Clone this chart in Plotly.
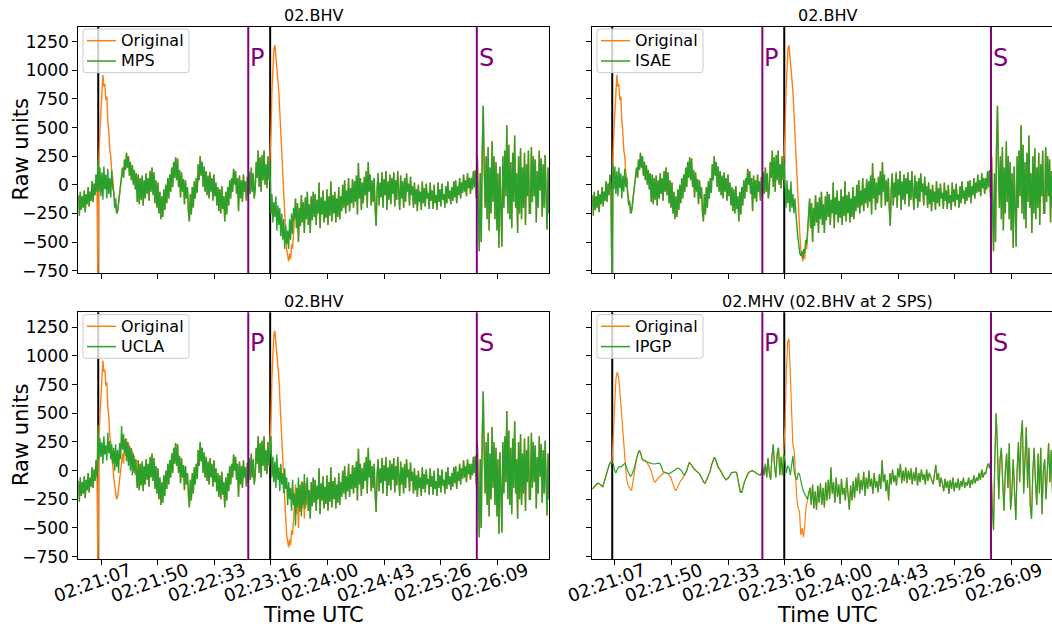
import numpy as np
import plotly.graph_objects as go

# ---------------- data ----------------
tick_vals = [7.3, 50.5, 93.7, 136.9, 180.1, 223.3, 266.5, 309.7]
tick_text = ["02:21:07", "02:21:50", "02:22:33", "02:23:16",
             "02:24:00", "02:24:43", "02:25:26", "02:26:09"]
y_ticks = [-750, -500, -250, 0, 250, 500, 750, 1000, 1250]
glitch_times = [5.2, 136.4]
p_time = 119.7
s_time = 294.1

# 02.BHV original (seconds after 02:21:00, 0.75 s step)
bhv_t0, bhv_dt = -10.0, 0.75
bhv_original = [
    -90, -270, -60, -220, -100, -200, -50, -240, -80, -170, -20, -190, -60, -140, 30, -150, 10, -90, 90, -60,
    -900, 250, 480, 680, 880, 960, 860, 880, 740, 770, 560, 470, 300, 250, 110, 60, -60, -120, -210, -250,
    -230, -150, -110, 0, 40, 150, 60, 220, 130, 280, 150, 250, 80, 200, 40, 170, 0, 130, -40, 100,
    -150, 90, -170, 60, -130, 80, -180, 40, -120, 100, -80, 60, -140, 120, -60, 150, -90, 110, -160, 40,
    -200, 20, -250, -60, -300, -100, -280, -40, -220, 0, -160, 60, -120, 90, -60, 150, -20, 200, 60, 240,
    40, 230, -20, 130, -110, 110, -60, 50, -170, 40, -120, -20, -230, -320, -80, -260, -20, -200, 30, -120,
    60, -70, 180, 40, 250, 80, 200, -20, 160, -60, 120, -90, 80, -120, 110, -60, 60, -140, 90, -100,
    20, -180, -20, -230, -40, -250, -10, -210, -100, -320, -60, -260, -20, -180, 40, -120, 60, -60, 140, 0,
    120, -80, 60, -230, 80, -120, 40, -150, 90, -60, 30, -140, 70, -100, 110, -80, 150, -60, 100, -120,
    -40, 200, 60, 300, -20, 240, -60, 260, 40, 300, 0, 180, -30, 250, 40, 200, 450, 820, 1100, 1190,
    1220, 1120, 1060, 980, 820, 640, 440, 260, 80, -120, -280, -420, -560, -620, -670, -600, -650, -520, -560, -430,
    -300, -120, -380, -160, -500, -200, -360, -90, -330, -150, -420, -110, -300, -60, -350, -170, -420, -100, -310, -60,
    -280, -80, -350, -130, -250, 20, -380, -110, -260, -50, -330, -140, -290, -40, -350, -100, -270, 30, -320, -90,
    -250, -60, -330, -120, -280, -20, -300, -100, -230, 0, -200, 40, -250, -50, -180, 60, -230, -30, -160, 50,
    -200, 30, -150, 80, -260, 190, -120, 60, -220, 20, -160, 70, -90, 120, -200, 200, -60, 90, -180, 40,
    -150, 60, -200, -360, -40, 100, -180, 20, -110, 110, -200, 50, -90, 120, -220, 30, -130, 90, -170, 60,
    -80, 110, -190, 40, -130, 120, -60, -220, 80, -120, 30, -200, 60, -150, 100, -60, 10, -180, 70, -90,
    -10, -200, 20, -170, -40, -230, 0, -150, -60, -220, 30, -160, -30, -190, 10, -120, -70, -210, 20, -140,
    -50, -210, 0, -160, -90, -220, 20, -150, -40, -190, 10, -130, -80, -200, -10, -160, 30, -120, -50, -170,
    -20, -140, 30, -110, 40, -160, -10, -90, 60, -120, 20, -70, 90, -60, 40, -100, 100, -30, 60, -80,
    60, -40, 120, -20, 130, -120, 250, -350, -580, 100, -500, 300, 690, 150, -200, 250, -300, 330, -400, 150,
    -250, 380, -150, 250, -300, 200, -400, 100, -550, 160, -300, -540, 250, -200, 300, -100, 520, -250, 350, -300,
    200, -380, 280, -150, 430, -200, 100, -420, 250, -250, 320, -300, 150, -200, 280, -350, 180, -100, 300, -250,
    -250, 330, -150, 250, -100, 220, -330, 120, -200, 300, -50, 230, -280, 180, -200, 260, -100, -390, 150, -250,
]

# deglitched segments: (start time, values)
mps_seg1_t = 5.0
mps_seg1 = [220, -60, 150, -100, 110, -130, 160, -40, 90, -120, 140, -80, 60, -110, 130, -30, -60, -200, -120, -250]
mps_seg2_t = 137.0
mps_seg2 = [-250, -80, -330, -150, -280, -100, -400, -180, -350, -200, -450, -250,
            -480, -300, -560, -350, -520, -400, -560, -300, -480, -250, -430, -200]
isae_seg1_t = 5.0
isae_seg1 = [-900, 180, -40, 160, -80, 120, -100, 150, -30, 100, -120, 80, -60, 140, -20, 60, -90, -180, -140, -250]
isae_seg2_t = 137.0
isae_seg2 = [-20, -200, 40, -160, -40, -240, 30, -200, -80, -250, -120, -300,
             -350, -450, -540, -600, -620, -580, -640, -560, -600, -480, -520, -400]
ucla_seg1_t = 5.0
ucla_seg1 = [400, 100, 280, 120, 250, 60, 300, 140, 220, 90, 330, 150, 260, 100, 230, 60, 200, 0, 230, 30,
             180, -20, 240, 100, 390, 180, 320, 150, 280, 80, 250, 40, 220, 0, 200, -40, 150, -20, 100, -60]
ucla_seg2_t = 137.0
ucla_seg2 = [300, -60, 120, -100, 80, -150, 140, -80, 30, -180, 60, -120, -20, -200, 20, -160, -60, -300, -100, -250,
             -150, -350, -80, -300, -200, -480, -150, -320, -60, -350, -120, -400, -100, -300, -30, -330, -150]

# 02.MHV original (1 s step)
mhv_t0, mhv_dt = -10.0, 1.0
mhv_original = [
    -160, -145, -130, -118, -110, -112, -120, -135, -140, -100, -60, -20, 20, 55, 75, 70, 300, 560, 800, 860,
    820, 700, 540, 380, 220, 80, -60, -120, -150, -165, -170, -90, 0, 60, 120, 150, 175, 150, 100, 90,
    85, 80, 65, 40, 20, 0, -50, -90, -100, -80, -70, -55, -45, -30, -25, -15, -15, -20, -30, -45,
    -60, -100, -140, -165, -170, -140, -110, -95, -80, -65, -55, -30, 0, 40, 70, 60, 40, 25, 10, 0,
    -10, -20, -30, -55, -80, -100, -110, -90, -60, -30, 0, 50, 90, 115, 100, 60, 30, 15, 0, -25,
    -50, -70, -80, -70, -60, -40, -20, -15, -10, -12, -15, -80, -140, -190, -190, -140, -100, -70, -40, -20,
    -10, -5, 0, -5, -10, -20, -30, -35, -40, -20, 30, -40, 60, -60, 110, -20, -80, 120, 230, 40,
    -60, 150, 200, -40, 120, -40, 150, 400, 850, 1120, 1150, 850, 560, 220, 170, -60, -250, -330, -350, -560,
    -500, -580, -480, -320, -260, -200, -150, -300, -120, -330, -180, -340, -130, -280, -110, -300, -150, -320, -100, -260,
    -80, -250, 30, -200, -100, -280, -60, -230, -120, -290, -70, -210, -150, -260, -60, -200, -340, -130, -260, -90,
    -240, -60, -180, -20, -200, -80, -170, -10, -220, -60, -160, 0, -140, -70, -200, -20, -150, -90, -190, -30,
    -160, 90, -100, -30, -180, -80, -260, -20, -120, 10, -100, -40, -130, 20, -60, 60, -110, 0, -90, 30,
    -110, 0, -80, 20, -120, -10, -90, 30, -130, -20, -100, 10, -80, -30, -120, 10, -90, -20, -60, -100,
    -120, -30, 50, -80, -20, -140, -60, -110, -180, -70, -150, -90, -200, -80, -160, -60, -180, -100, -150, -70,
    -170, -90, -140, -60, -150, -100, -130, -60, -150, -80, -120, -40, -110, -60, -90, -20, -80, 10, -60, -20,
    -30, 30, 60, 20, 100, -300, -520, 100, 500, 200, -250, 100, 200, -100, -350, 0, 150, -150, 240, -340,
    -200, 100, -150, -430, 0, 250, -100, 300, 440, -200, 100, 380, -150, 200, -300, -420, 0, 200, -100, -300,
    150, -200, 200, -380, 0, 100, -250, 50, 240, -100, 180, -200, 100, -150, 200, -100, 150, -200, 100, 0,
]
ipgp_seg1_t = 6.0
ipgp_seg1 = [60, 0, -20, 10, 30, 35, 35, 45, 60, 65, 30, -10, -30, -50, -40, -10, 20, 70, 120, 155, 175, 150]
ipgp_seg2_t = 30.0
ipgp_seg2 = [90, 80, 75, 70, 65, 62, 60, 58, 60, 62, 65, 65, 55, 20, -10, -15,
             -20, -25, -25, -22, -20, -10, 0, 10, 15, 20, 20, 10, 0, -20, -40, -20]
ipgp_seg3_t = 137.0
ipgp_seg3 = [80, -20, 40, 30, -40, 60, 130, -10, -60, -80, -20, -30, -100, -140, -180, -200, -230, -250, -200, -150]


def patched(base, t0, dt, segs):
    arr = list(base)
    for st, vals in segs:
        i = int(round((st - t0) / dt))
        arr[i:i + len(vals)] = vals
    return arr


bhv_t = bhv_t0 + bhv_dt * np.arange(len(bhv_original))
mhv_t = mhv_t0 + mhv_dt * np.arange(len(mhv_original))
mps_green = patched(bhv_original, bhv_t0, bhv_dt, [(mps_seg1_t, mps_seg1), (mps_seg2_t, mps_seg2)])
isae_green = patched(bhv_original, bhv_t0, bhv_dt, [(isae_seg1_t, isae_seg1), (isae_seg2_t, isae_seg2)])
ucla_green = patched(bhv_original, bhv_t0, bhv_dt, [(ucla_seg1_t, ucla_seg1), (ucla_seg2_t, ucla_seg2)])
ipgp_green = patched(mhv_original, mhv_t0, mhv_dt,
                     [(ipgp_seg1_t, ipgp_seg1), (ipgp_seg2_t, ipgp_seg2), (ipgp_seg3_t, ipgp_seg3)])

# ---------------- layout geometry ----------------
W, H = 1052, 629
ORANGE, GREEN, PURPLE = "#ff7f0e", "#2ca02c", "purple"
FONT = "DejaVu Sans"


def fx(p):
    return p / W


def fy(p):
    return 1 - p / H


left_dom = [fx(78.3), fx(549)]
right_dom = [fx(592.3), 1.0]
top_dom = [fy(273.3), fy(26.7)]
bot_dom = [fy(559.3), fy(312.3)]
x_left_range = [-10.02, 349.2]
x_right_range = [-10.0, 340.6]
y_range = [-773, 1381]

panels = [
    dict(n="", xd=left_dom, yd=top_dom, xr=x_left_range, t=bhv_t, o=bhv_original, g=mps_green,
         name="MPS", title="02.BHV", lw=1.4, bottom=False, left=True, top_px=26.7, l_px=78.3, r_px=549),
    dict(n="2", xd=right_dom, yd=top_dom, xr=x_right_range, t=bhv_t, o=bhv_original, g=isae_green,
         name="ISAE", title="02.BHV", lw=1.4, bottom=False, left=False, top_px=26.7, l_px=592.3, r_px=1063),
    dict(n="3", xd=left_dom, yd=bot_dom, xr=x_left_range, t=bhv_t, o=bhv_original, g=ucla_green,
         name="UCLA", title="02.BHV", lw=1.4, bottom=True, left=True, top_px=312.3, l_px=78.3, r_px=549),
    dict(n="4", xd=right_dom, yd=bot_dom, xr=x_right_range, t=mhv_t, o=mhv_original, g=ipgp_green,
         name="IPGP", title="02.MHV (02.BHV at 2 SPS)", lw=1.2, bottom=True, left=False, top_px=312.3,
         l_px=592.3, r_px=1063),
]


def rounded_rect(x0, y0, x1, y1, r):
    # pixel box -> paper path with rounded corners
    X0, X1 = fx(x0), fx(x1)
    Y0, Y1 = fy(y0), fy(y1)
    rx, ry = r / W, r / H
    return (f"M{X0 + rx},{Y0} L{X1 - rx},{Y0} Q{X1},{Y0} {X1},{Y0 - ry} "
            f"L{X1},{Y1 + ry} Q{X1},{Y1} {X1 - rx},{Y1} L{X0 + rx},{Y1} "
            f"Q{X0},{Y1} {X0},{Y1 + ry} L{X0},{Y0 - ry} Q{X0},{Y0} {X0 + rx},{Y0} Z")


fig = go.Figure()
shapes, annotations = [], []
legend_shapes = []
layout = {}

for p in panels:
    n = p["n"]
    xa, ya = "x" + n, "y" + n
    fig.add_trace(go.Scatter(x=p["t"], y=p["o"], mode="lines", name="Original", showlegend=False,
                             line=dict(color=ORANGE, width=p["lw"]), xaxis=xa, yaxis=ya))
    fig.add_trace(go.Scatter(x=p["t"], y=p["g"], mode="lines", name=p["name"], showlegend=False,
                             line=dict(color=GREEN, width=p["lw"]), xaxis=xa, yaxis=ya))
    layout["xaxis" + n] = dict(
        domain=p["xd"], range=p["xr"], anchor=ya, tickmode="array", tickvals=tick_vals,
        ticktext=tick_text, showticklabels=False,
        ticks="outside", ticklen=5, tickwidth=1, tickcolor="black", showline=True,
        linecolor="black", linewidth=1, mirror=True, showgrid=False, zeroline=False,
        automargin=False)
    layout["yaxis" + n] = dict(
        domain=p["yd"], range=y_range, anchor=xa, tickmode="array", tickvals=y_ticks,
        ticktext=[("\u2212" + str(-v)) if v < 0 else str(v) for v in y_ticks],
        showticklabels=p["left"], ticks="outside", ticklen=5, tickwidth=1, tickcolor="black",
        showline=True, linecolor="black", linewidth=1, mirror=p["left"], showgrid=False,
        zeroline=False, automargin=False, tickfont=dict(family=FONT, size=17, color="black"))
    # rotated time tick labels (matplotlib-style, rotated 20 degrees)
    if p["bottom"]:
        for tv, tt in zip(tick_vals, tick_text):
            annotations.append(dict(x=tv, y=p["yd"][0], xref=xa, yref="paper", text=tt,
                                    showarrow=False, textangle=-20, xanchor="center",
                                    yanchor="middle", xshift=-8.2, yshift=-22.7,
                                    font=dict(family=FONT, size=18, color="black")))
    for gt in glitch_times:
        shapes.append(dict(type="line", xref=xa, yref=ya + " domain", x0=gt, x1=gt, y0=0, y1=1,
                           line=dict(color="black", width=2), layer="below"))
    for pt, lab in [(p_time, "P"), (s_time, "S")]:
        shapes.append(dict(type="line", xref=xa, yref=ya + " domain", x0=pt, x1=pt, y0=0, y1=1,
                           line=dict(color=PURPLE, width=2), layer="above"))
        annotations.append(dict(x=pt, y=1110, xref=xa, yref=ya, text=lab, showarrow=False,
                                xanchor="left", yanchor="middle",
                                font=dict(family=FONT, size=24, color=PURPLE)))
    # legend box (matplotlib-style, upper left)
    lp, tp = p["l_px"], p["top_px"]
    legend_shapes.append(dict(type="path", xref="paper", yref="paper",
                              path=rounded_rect(lp + 4.7, tp + 2.3, lp + 110.7, tp + 46, 3),
                              fillcolor="rgba(255,255,255,0.8)", line=dict(color="#cccccc", width=1),
                              layer="above"))
    for dy, col, lab in [(14, ORANGE, "Original"), (34.3, GREEN, p["name"])]:
        legend_shapes.append(dict(type="line", xref="paper", yref="paper",
                                  x0=fx(lp + 8.7), x1=fx(lp + 37.7), y0=fy(tp + dy), y1=fy(tp + dy),
                                  line=dict(color=col, width=1.5), layer="above"))
        annotations.append(dict(x=fx(lp + 41), y=fy(tp + dy), xref="paper", yref="paper", text=lab,
                                showarrow=False, xanchor="left", yanchor="middle",
                                font=dict(family=FONT, size=16, color="black")))
    cx = (p["l_px"] + p["r_px"]) / 2
    annotations.append(dict(x=fx(cx), y=fy(tp - 10.8), xref="paper", yref="paper",
                            text=p["title"], showarrow=False, xanchor="center", yanchor="middle",
                            font=dict(family=FONT, size=16, color="black")))
    if p["left"]:
        cy = tp + (273.3 - 26.7) / 2
        annotations.append(dict(x=fx(20.5), y=fy(cy), xref="paper", yref="paper", text="Raw units",
                                textangle=-90, showarrow=False, xanchor="center", yanchor="middle",
                                font=dict(family=FONT, size=21, color="black")))
    if p["bottom"]:
        annotations.append(dict(x=fx(cx), y=fy(615), xref="paper", yref="paper", text="Time UTC",
                                showarrow=False, xanchor="center", yanchor="middle",
                                font=dict(family=FONT, size=21, color="black")))

fig.update_layout(width=W, height=H, margin=dict(l=0, r=0, t=0, b=0, autoexpand=False),
                  plot_bgcolor="white", paper_bgcolor="white", showlegend=False,
                  font=dict(family=FONT, size=16, color="black"),
                  shapes=shapes + legend_shapes, annotations=annotations, **layout)

fig.write_html("out.html", config={"displayModeBar": False},
               post_script="document.body.style.margin='0';document.body.style.overflow='hidden';")
